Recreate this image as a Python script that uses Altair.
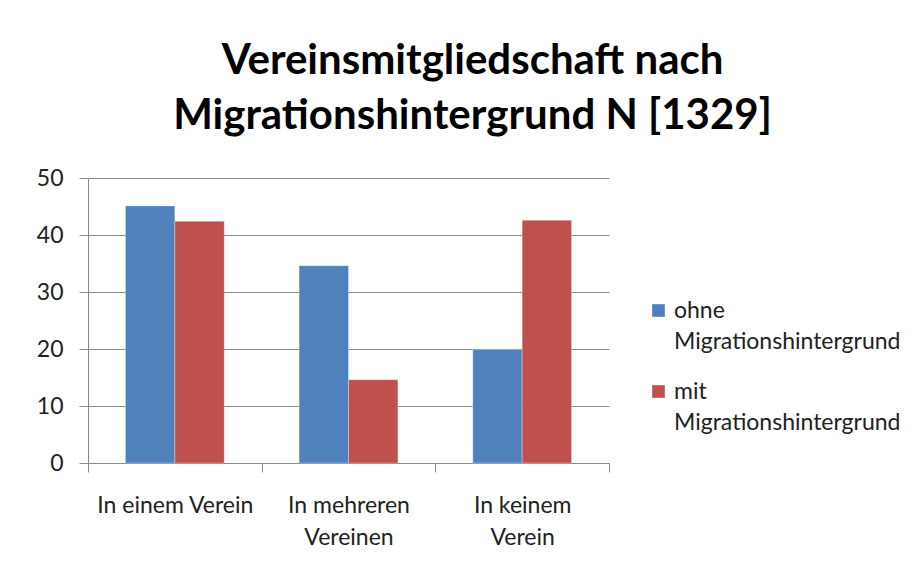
import altair as alt
import pandas as pd

categories = ["In einem Verein", "In mehreren Vereinen", "In keinem Verein"]
series = ["ohne Migrationshintergrund", "mit Migrationshintergrund"]
ohne = [45.1, 34.6, 19.9]
mit = [42.4, 14.6, 42.6]
colors = ["#4F81BD", "#C0504D"]

rows = []
for c, a, b in zip(categories, ohne, mit):
    rows.append({"Kategorie": c, "Gruppe": series[0], "Wert": a})
    rows.append({"Kategorie": c, "Gruppe": series[1], "Wert": b})
df = pd.DataFrame(rows)

FONT = "Lato"
x_label_expr = ("datum.label == 'In einem Verein' ? datum.label : "
                "[slice(datum.label, 0, lastindexof(datum.label, ' ')), "
                "slice(datum.label, lastindexof(datum.label, ' ') + 1)]")
legend_label_expr = ("[slice(datum.label, 0, indexof(datum.label, ' ')), "
                     "slice(datum.label, indexof(datum.label, ' ') + 1)]")

chart = alt.Chart(df).mark_bar(stroke="white", strokeWidth=0.5, strokeOpacity=0.6).encode(
    x=alt.X("Kategorie:N", sort=categories,
            scale=alt.Scale(paddingInner=0, paddingOuter=0),
            axis=alt.Axis(title=None, labelAngle=0, labelExpr=x_label_expr,
                          labelFontSize=23, labelColor="#222", labelFont=FONT,
                          labelLineHeight=32, labelPadding=22,
                          domainColor="#8c8c8c", tickColor="#8c8c8c", tickSize=9,
                          tickBand="extent", labelLimit=300)),
    xOffset=alt.XOffset("Gruppe:N", sort=series,
                        scale=alt.Scale(paddingInner=0, paddingOuter=0.758)),
    y=alt.Y("Wert:Q", scale=alt.Scale(domain=[0, 50]),
            axis=alt.Axis(title=None, values=[0, 10, 20, 30, 40, 50],
                          labelFontSize=23, labelColor="#222", labelFont=FONT,
                          labelPadding=16,
                          domainColor="#8c8c8c", tickColor="#8c8c8c", tickSize=9,
                          gridColor="#8c8c8c", gridWidth=1)),
    color=alt.Color("Gruppe:N", sort=series,
                    scale=alt.Scale(domain=series, range=colors),
                    legend=alt.Legend(title=None, orient="none", legendX=559, legendY=121,
                                      symbolType="square", symbolSize=160,
                                      symbolStrokeWidth=0,
                                      labelExpr=legend_label_expr,
                                      labelFontSize=23, labelColor="#222", labelFont=FONT,
                                      labelBaseline="middle",
                                      labelLimit=400, rowPadding=26, labelOffset=4)),
).properties(
    width=521, height=285,
    title=alt.Title(["Vereinsmitgliedschaft nach", "Migrationshintergrund N [1329]"],
                    fontSize=42, font=FONT, fontWeight="bold", color="#000",
                    lineHeight=55, anchor="middle", dx=124, offset=29),
    autosize=alt.AutoSizeParams(type="none"),
    padding={"left": 80, "top": 170, "right": 305, "bottom": 106},
).configure(
    background="white",
    style={"guide-label": {"lineHeight": 31}},
).configure_view(stroke=None)

chart.save("out.html", embed_options={"renderer": "svg", "actions": False})
